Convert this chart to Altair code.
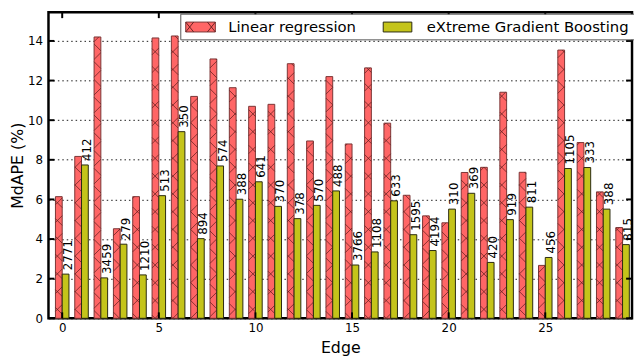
import altair as alt
import pandas as pd

edges = list(range(30))
lr = [6.14, 8.17, 14.2, 4.52, 6.14, 14.15, 14.25, 11.2, 13.09, 11.64,
      10.7, 10.8, 12.85, 8.95, 12.2, 8.8, 12.64, 9.85, 6.21, 5.17,
      4.82, 7.36, 7.62, 11.41, 7.37, 2.67, 13.54, 8.87, 6.38, 4.58]
xgb = [2.23, 7.74, 2.04, 3.74, 2.19, 6.19, 9.42, 4.02, 7.69, 6.01,
       6.89, 5.65, 5.03, 5.7, 6.43, 2.69, 3.35, 5.93, 4.22, 3.42,
       5.51, 6.31, 2.82, 4.98, 5.61, 3.07, 7.56, 7.61, 5.51, 3.72]
counts = [2771, 412, 3459, 279, 1210, 513, 350, 894, 574, 388,
          641, 370, 378, 570, 488, 3766, 1108, 633, 1595, 4194,
          310, 369, 420, 919, 811, 456, 1105, 333, 388, 815]
x_ticks = [0, 5, 10, 15, 20, 25]
y_ticks = [0, 2, 4, 6, 8, 10, 12, 14]

W, H = 591, 310
XMIN, XMAX = -0.71, 29.49
YMAX = 15.45
BW = 0.35
FONT = "DejaVu Sans"

PX = W / (XMAX - XMIN)   # px per x unit
PY = H / YMAX            # px per y unit
S = 18.0                 # hatch spacing (px) per diagonal family

df = pd.DataFrame({"edge": edges, "lr": lr, "xgb": xgb, "n": counts})


def clip_line(s, c, L, R, top):
    # line y = s*x + c (pixel space, y up from 0), clipped to [L,R]x[0,top]
    lo_x, hi_x = L, R
    for y_lim in (0.0, top):
        xv = (y_lim - c) / s
        if (s > 0) == (y_lim == 0.0):
            lo_x = max(lo_x, xv)
        else:
            hi_x = min(hi_x, xv)
    if hi_x - lo_x < 0.3:
        return None
    return (lo_x, s * lo_x + c, hi_x, s * hi_x + c)


rows = []
for e, v in zip(edges, lr):
    L = (e - BW - XMIN) * PX
    R = (e - XMIN) * PX
    top = v * PY
    for s in (1, -1):
        cs = [(-s * L), (-s * R), (top - s * L), (top - s * R)]
        kmin = int(min(cs) // S) - 1
        kmax = int(max(cs) // S) + 1
        for k in range(kmin, kmax + 1):
            seg = clip_line(s, k * S, L, R, top)
            if seg:
                x1, y1, x2, y2 = seg
                rows.append({"x": x1 / PX + XMIN, "x2": x2 / PX + XMIN,
                             "y": y1 / PY, "y2": y2 / PY})
hatch = pd.DataFrame(rows)

xs = alt.Scale(domain=[XMIN, XMAX], nice=False, zero=False)
ys = alt.Scale(domain=[0, YMAX], nice=False)

xax = alt.Axis(values=x_ticks, grid=False, title="Edge", labelFontSize=12,
               titleFontSize=16, labelPadding=4, titlePadding=7,
               titleFontWeight="normal", format="d")
yax = alt.Axis(values=y_ticks, grid=True, gridDash=[1.5, 3], gridColor="black",
               gridOpacity=0.9, title="MdAPE (%)", labelFontSize=12,
               titleFontSize=16, labelPadding=6, titlePadding=2,
               titleFontWeight="normal")

base = alt.Chart(df)

red = base.transform_calculate(x0="datum.edge - 0.35").mark_rect(
    color="#ff6666", stroke="#7a3535", strokeWidth=1
).encode(
    x=alt.X("x0:Q", scale=xs, axis=xax),
    x2="edge:Q",
    y=alt.Y("lr:Q", scale=ys, axis=yax),
    y2=alt.datum(0),
)

hatch_layer = alt.Chart(hatch).mark_rule(color="#5a1c1c", strokeWidth=0.9, opacity=0.8).encode(
    x=alt.X("x:Q", scale=xs), x2="x2:Q",
    y=alt.Y("y:Q", scale=ys), y2="y2:Q",
)

green = base.transform_calculate(x1="datum.edge + 0.35").mark_rect(
    color="#c4c41a", stroke="#2a2a10", strokeWidth=1
).encode(
    x=alt.X("edge:Q", scale=xs),
    x2="x1:Q",
    y=alt.Y("xgb:Q", scale=ys),
    y2=alt.datum(0),
)

labels = base.transform_calculate(
    lx="datum.edge + 0.3", ly="datum.xgb + 0.2"
).mark_text(angle=270, align="left", baseline="middle", fontSize=12,
            font=FONT, color="black").encode(
    x=alt.X("lx:Q", scale=xs),
    y=alt.Y("ly:Q", scale=ys),
    text="n:N",
)

xt = pd.DataFrame({"t": x_ticks})
yt = pd.DataFrame({"t": y_ticks})
tk = dict(color="black", strokeWidth=2)
xt_bot = alt.Chart(xt).mark_rule(**tk).encode(
    x=alt.X("t:Q", scale=xs), y=alt.value(H), y2=alt.value(H - 6))
xt_top = alt.Chart(xt).mark_rule(**tk).encode(
    x=alt.X("t:Q", scale=xs), y=alt.value(0), y2=alt.value(6))
yt_l = alt.Chart(yt).mark_rule(**tk).encode(
    y=alt.Y("t:Q", scale=ys), x=alt.value(0), x2=alt.value(6))
yt_r = alt.Chart(yt).mark_rule(**tk).encode(
    y=alt.Y("t:Q", scale=ys), x=alt.value(W - 6), x2=alt.value(W))

# custom legend
one = alt.Chart(pd.DataFrame({"a": [0]}))
leg_box = one.mark_rect(fill="white", stroke="#555", strokeWidth=1).encode(
    x=alt.value(134), x2=alt.value(596), y=alt.value(2), y2=alt.value(28))
p1 = one.mark_rect(fill="#ff6666", stroke="#7a3535", strokeWidth=1).encode(
    x=alt.value(139), x2=alt.value(169), y=alt.value(10), y2=alt.value(20))
hx = []
for a, b, c, d in [(139, 10, 147, 20), (139, 20, 147, 10), (161, 10, 169, 20), (161, 20, 169, 10)]:
    hx.append(one.mark_rule(color="#5a1c1c", strokeWidth=0.9).encode(
        x=alt.value(a), y=alt.value(b), x2=alt.value(c), y2=alt.value(d)))
t1 = one.mark_text(align="left", baseline="middle", fontSize=15, font=FONT).encode(
    x=alt.value(182), y=alt.value(15), text=alt.value("Linear regression"))
p2 = one.mark_rect(fill="#c4c41a", stroke="#2a2a10", strokeWidth=1).encode(
    x=alt.value(339), x2=alt.value(368), y=alt.value(10), y2=alt.value(20))
t2 = one.mark_text(align="left", baseline="middle", fontSize=15, font=FONT).encode(
    x=alt.value(383), y=alt.value(15), text=alt.value("eXtreme Gradient Boosting"))

chart = alt.layer(
    red, hatch_layer, green, labels, xt_bot, xt_top, yt_l, yt_r,
    leg_box, p1, *hx, t1, p2, t2
).properties(
    width=W, height=H,
    autosize=alt.AutoSizeParams(type="none"),
    padding={"left": 41, "top": 2, "right": 2, "bottom": 42},
).configure_view(
    stroke="black", strokeWidth=2.5
).configure_axis(
    ticks=False, domain=False, labelFont=FONT, titleFont=FONT,
    labelColor="black", titleColor="black"
)

chart.save("out.html", embed_options={"renderer": "svg", "actions": False})
